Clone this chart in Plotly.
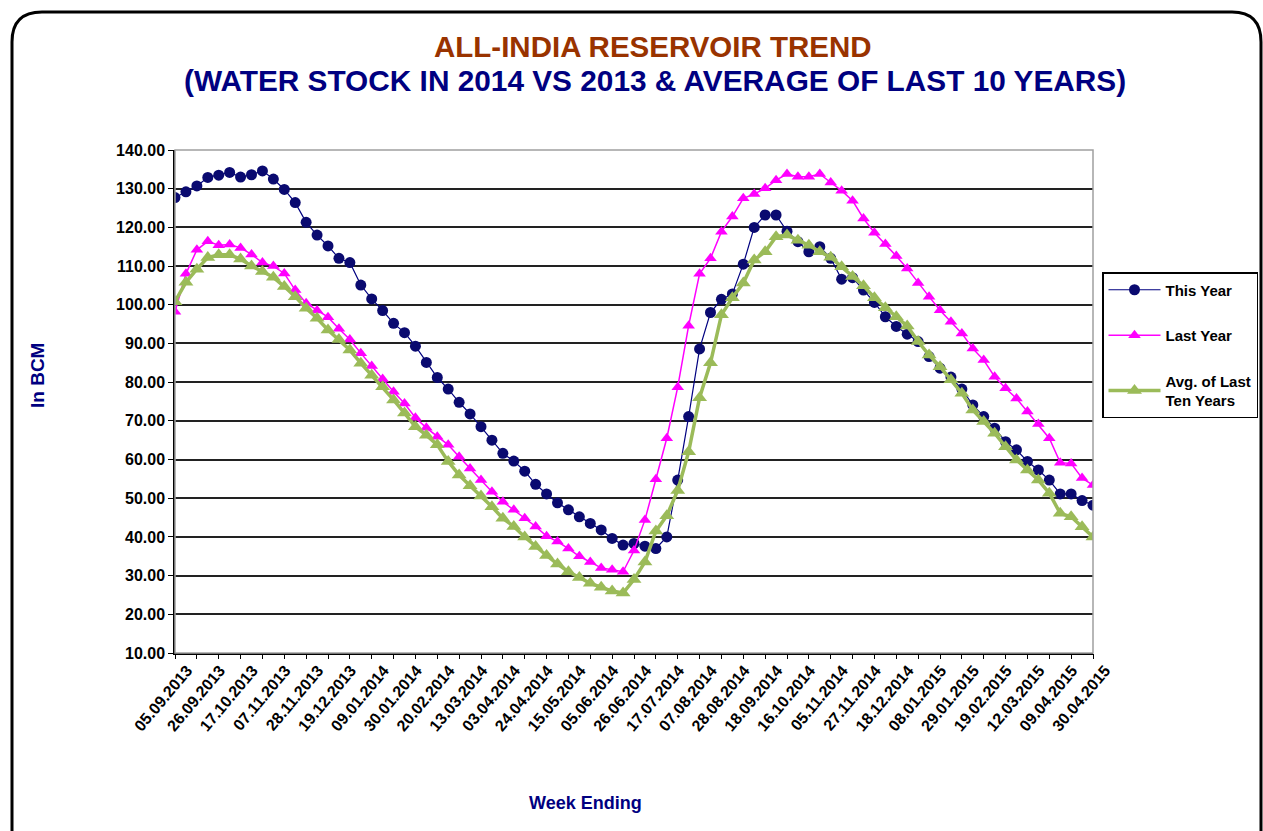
import plotly.graph_objects as go

weeks = [
    "05.09.2013", "12.09.2013", "19.09.2013", "26.09.2013", "03.10.2013", "10.10.2013",
    "17.10.2013", "24.10.2013", "31.10.2013", "07.11.2013", "14.11.2013", "21.11.2013",
    "28.11.2013", "05.12.2013", "12.12.2013", "19.12.2013", "26.12.2013", "02.01.2014",
    "09.01.2014", "16.01.2014", "23.01.2014", "30.01.2014", "06.02.2014", "13.02.2014",
    "20.02.2014", "27.02.2014", "06.03.2014", "13.03.2014", "20.03.2014", "27.03.2014",
    "03.04.2014", "10.04.2014", "17.04.2014", "24.04.2014", "01.05.2014", "08.05.2014",
    "15.05.2014", "22.05.2014", "29.05.2014", "05.06.2014", "12.06.2014", "19.06.2014",
    "26.06.2014", "03.07.2014", "10.07.2014", "17.07.2014", "24.07.2014", "31.07.2014",
    "07.08.2014", "14.08.2014", "21.08.2014", "28.08.2014", "04.09.2014", "11.09.2014",
    "18.09.2014", "25.09.2014", "09.10.2014", "16.10.2014", "23.10.2014", "30.10.2014",
    "05.11.2014", "13.11.2014", "20.11.2014", "27.11.2014", "04.12.2014", "11.12.2014",
    "18.12.2014", "25.12.2014", "01.01.2015", "08.01.2015", "15.01.2015", "22.01.2015",
    "29.01.2015", "05.02.2015", "12.02.2015", "19.02.2015", "26.02.2015", "05.03.2015",
    "12.03.2015", "19.03.2015", "26.03.2015", "09.04.2015", "16.04.2015", "23.04.2015",
    "30.04.2015",
]

this_year = [
    127.7, 129.2, 130.7, 132.9, 133.5, 134.2, 133.0, 133.6, 134.6, 132.5,
    129.8, 126.4, 121.3, 118.0, 115.2, 112.0, 110.9, 105.1, 101.5, 98.5,
    95.2, 92.8, 89.3, 85.1, 81.2, 78.2, 74.8, 71.8, 68.5, 65.0,
    61.6, 59.6, 57.0, 53.6, 51.1, 48.8, 47.0, 45.2, 43.5, 41.8,
    39.6, 37.9, 38.3, 37.6, 37.0, 40.0, 54.7, 71.1, 88.6, 98.0,
    101.4, 102.8, 110.5, 120.0, 123.2, 123.2, 119.0, 116.3, 113.7, 115.0,
    112.0, 106.6, 107.0, 103.8, 100.6, 96.9, 94.4, 92.4, 90.5, 86.6,
    83.6, 81.3, 78.2, 74.1, 71.1, 68.1, 64.6, 62.5, 59.5, 57.3,
    54.7, 51.1, 51.1, 49.4, 48.2,
]

last_year = [
    98.2, 108.0, 114.2, 116.4, 115.4, 115.6, 114.7, 113.0, 110.9, 110.0,
    108.1, 103.8, 100.4, 98.5, 96.8, 93.8, 91.0, 87.5, 84.2, 80.8,
    77.5, 74.5, 70.8, 68.2, 65.9, 63.8, 60.7, 57.7, 54.7, 51.7,
    49.1, 47.0, 44.8, 42.7, 40.2, 38.8, 37.0, 35.0, 33.5, 32.0,
    31.5, 31.0, 36.5, 44.4, 54.9, 65.5, 78.7, 94.6, 108.0, 112.0,
    118.9, 122.8, 127.5, 128.6, 130.1, 132.2, 133.8, 133.1, 133.1, 133.8,
    131.6, 129.5, 126.9, 122.3, 118.6, 115.7, 112.6, 109.4, 105.6, 102.1,
    98.6, 95.6, 92.6, 88.7, 85.7, 81.4, 78.4, 75.8, 72.4, 69.2,
    65.5, 59.2, 59.0, 55.2, 53.4,
]

avg_ten = [
    100.8, 105.8, 109.2, 112.2, 112.9, 112.9, 111.8, 110.0, 108.6, 107.1,
    104.7, 102.1, 99.1, 96.5, 93.5, 91.0, 88.3, 84.9, 81.8, 78.8,
    75.4, 72.0, 68.5, 66.3, 63.8, 59.5, 56.0, 53.2, 50.6, 47.8,
    44.8, 42.7, 40.0, 37.5, 35.2, 33.0, 31.0, 29.5, 28.0, 27.0,
    26.0, 25.5, 29.0, 33.5, 41.5, 45.5, 52.0, 62.0, 76.0, 85.0,
    97.4, 101.8, 105.6, 111.6, 113.7, 117.6, 118.0, 116.7, 115.4, 113.7,
    112.3, 109.8, 107.3, 104.9, 101.8, 99.2, 96.9, 94.5, 90.5, 87.0,
    84.0, 80.6, 77.1, 72.8, 69.8, 66.8, 63.3, 59.9, 57.3, 54.7,
    51.3, 46.1, 45.2, 42.6, 40.0,
]

series_names = ["This Year", "Last Year", "Avg. of Last<br>Ten Years"]

FONT = "Liberation Sans, Arial, sans-serif"
W, H = 1263, 831
L, R, T, B = 175, 1093, 150, 653


def px(x):
    return (x - L) / (R - L)


def py(y):
    return (B - y) / (B - T)


fig = go.Figure()

fig.add_trace(go.Scatter(
    x=weeks, y=this_year, name=series_names[0], mode="lines+markers",
    line=dict(color="#000080", width=1.2),
    marker=dict(symbol="circle", size=11, color="#0a0a70"),
    legendgroup="a",
))
fig.add_trace(go.Scatter(
    x=weeks, y=last_year, name=series_names[1], mode="lines+markers",
    line=dict(color="#FF00FF", width=1.5),
    marker=dict(symbol="triangle-up", size=11, color="#FF00FF"),
    legendgroup="b",
))
fig.add_trace(go.Scatter(
    x=weeks, y=avg_ten, name=series_names[2], mode="lines+markers",
    line=dict(color="#9BBB59", width=3.5),
    marker=dict(symbol="triangle-up", size=13, color="#9BBB59"),
    legendgroup="c",
))
# helper trace carrying the tick-mark axis (marks every 2 weeks)
fig.add_trace(go.Scatter(
    x=weeks, y=[None] * len(weeks), xaxis="x2", showlegend=False,
    hoverinfo="skip", mode="lines",
))

n = len(weeks)
fig.update_layout(
    width=W, height=H,
    margin=dict(l=L, r=W - R, t=T, b=H - B, autoexpand=False),
    paper_bgcolor="white", plot_bgcolor="white",
    font=dict(family=FONT, color="black"),
    showlegend=True,
    legend=dict(
        x=px(1102), y=py(272), xanchor="left", yanchor="top",
        bordercolor="black", borderwidth=1.5, bgcolor="white",
        font=dict(family=FONT, size=15, color="black", weight="bold"),
        tracegroupgap=23, traceorder="grouped", itemwidth=52,
    ),
    xaxis=dict(
        type="category", categoryorder="array", categoryarray=weeks,
        range=[0, n - 1],
        tickmode="array", tickvals=weeks[::3], ticktext=weeks[::3],
        tickangle=-50, ticks="", ticklabelshift=12,
        tickfont=dict(family=FONT, size=16, color="black", weight="bold"),
        showgrid=False, showline=True, linecolor="black", linewidth=1.5,
        zeroline=False,
    ),
    xaxis2=dict(
        type="category", categoryorder="array", categoryarray=weeks,
        range=[0, n - 1], overlaying="x", anchor="y", side="bottom",
        tickmode="array", tickvals=weeks[::2], showticklabels=False,
        ticks="outside", ticklen=5, tickcolor="black", tickwidth=1.2,
        showgrid=False, showline=False, zeroline=False,
    ),
    yaxis=dict(
        range=[10, 140], dtick=10, tick0=10, tickformat=".2f",
        ticks="outside", ticklen=5, tickcolor="black", tickwidth=1.2,
        tickfont=dict(family=FONT, size=16, color="black", weight="bold"),
        showgrid=True, gridcolor="#222222", gridwidth=1.5,
        showline=True, linecolor="black", linewidth=1.5, zeroline=False,
    ),
    shapes=[
        dict(type="rect", xref="paper", yref="paper", x0=0, x1=1, y0=0, y1=1,
             line=dict(color="#a0a0a0", width=1.5), layer="above"),
        dict(type="path", xref="paper", yref="paper",
             path=("M {a},{b} L {a},{c} Q {a},{d} {e},{d} L {f},{d} Q {g},{d} {g},{h} L {g},{b}".format(
                 a=px(12), b=py(860), c=py(42), d=py(12), e=px(42),
                 f=px(1232), g=px(1261), h=py(42))),
             line=dict(color="black", width=3)),
    ],
    annotations=[
        dict(text="<b>ALL-INDIA RESERVOIR TREND</b>", xref="paper", yref="paper",
             x=px(653), y=py(47), showarrow=False, xanchor="center", yanchor="middle",
             font=dict(family=FONT, size=29.5, color="#993300")),
        dict(text="<b>(WATER STOCK IN 2014 VS 2013 &amp; AVERAGE OF LAST 10 YEARS)</b>",
             xref="paper", yref="paper",
             x=px(655), y=py(80), showarrow=False, xanchor="center", yanchor="middle",
             font=dict(family=FONT, size=29.8, color="#000080")),
        dict(text="<b>In BCM</b>", xref="paper", yref="paper",
             x=px(37), y=py(376), showarrow=False, textangle=-90,
             xanchor="center", yanchor="middle",
             font=dict(family=FONT, size=19, color="#000080")),
        dict(text="<b>Week Ending</b>", xref="paper", yref="paper",
             x=px(585), y=py(803), showarrow=False,
             xanchor="center", yanchor="middle",
             font=dict(family=FONT, size=18, color="#000080")),
    ],
)

fig.write_html(
    "out.html",
    config={"displayModeBar": False},
    post_script="document.body.style.margin='0px';document.body.style.padding='0px';",
)
